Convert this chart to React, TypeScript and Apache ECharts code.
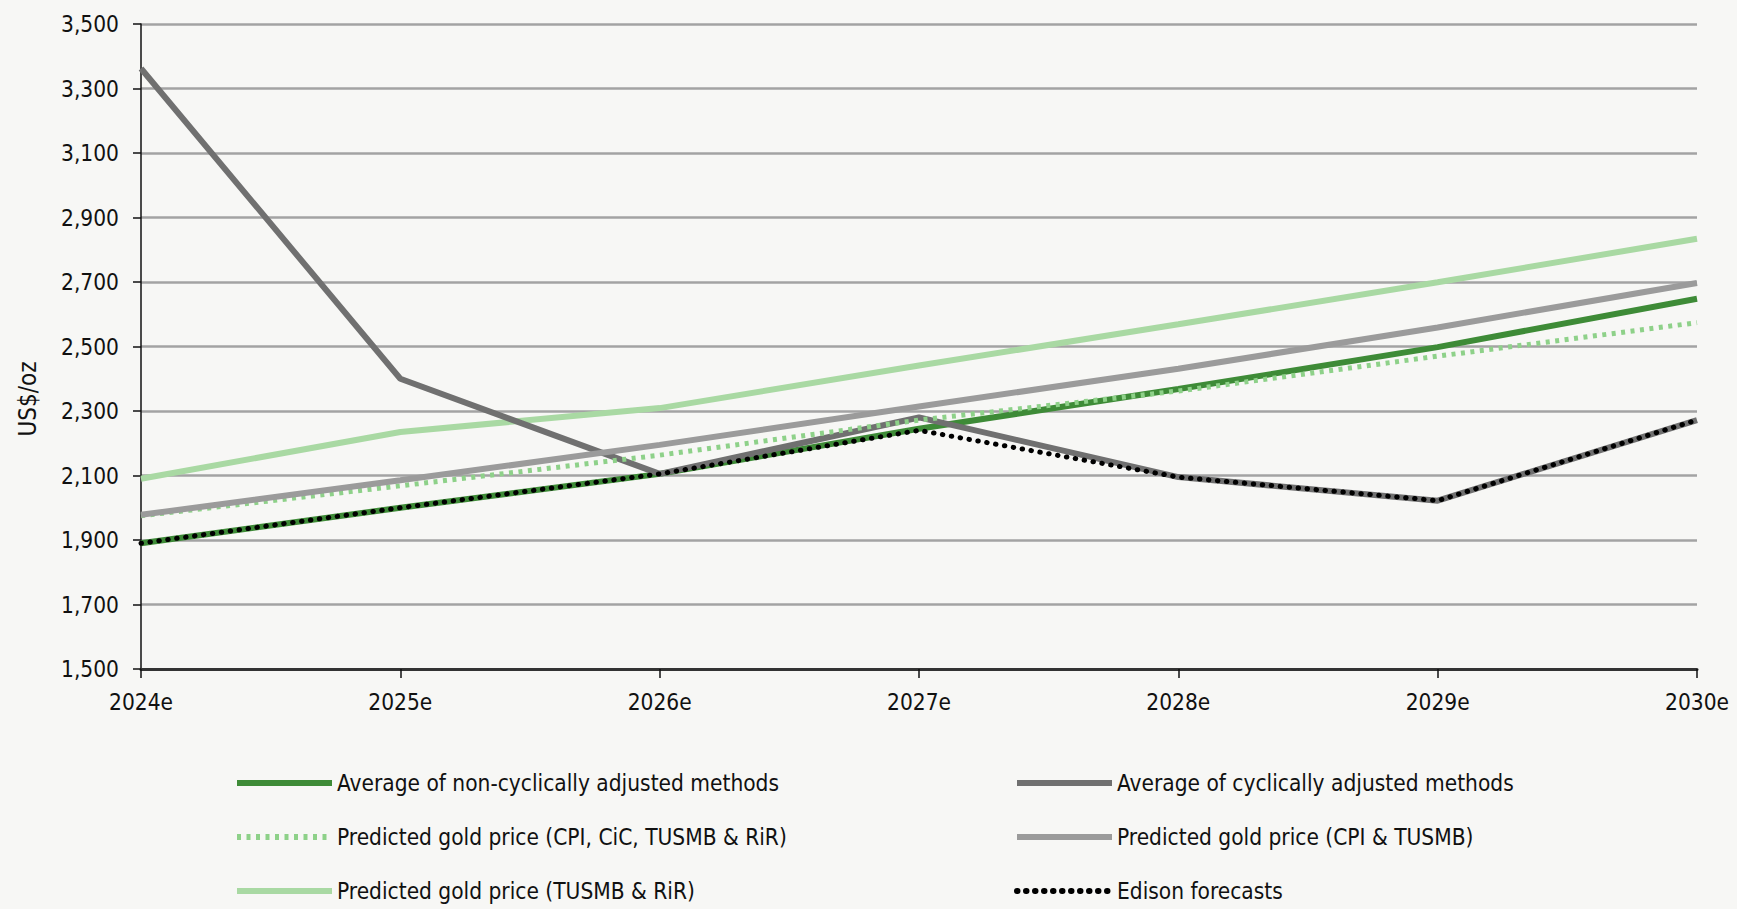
import React, { useEffect, useRef } from "react";
import * as echarts from "echarts";

const categories = ["2024e", "2025e", "2026e", "2027e", "2028e", "2029e", "2030e"];
const nonCyclical = [1890, 2000, 2105, 2245, 2368, 2498, 2648];
const cyclical = [3362, 2400, 2105, 2280, 2095, 2022, 2272];
const cpiCicTusmbRir = [1975, 2068, 2163, 2272, 2362, 2470, 2574];
const cpiTusmb = [1978, 2085, 2195, 2314, 2431, 2559, 2697];
const tusmbRir = [2090, 2235, 2309, 2441, 2569, 2699, 2834];
const edison = [1890, 2000, 2105, 2240, 2095, 2022, 2272];
const yTicks = { min: 1500, max: 3500, interval: 200 };

const FONT = "'DejaVu Sans Condensed', 'Liberation Sans Narrow', 'Arial Narrow', sans-serif";
const FS = 22.5;

export default function App() {
  const ref = useRef<HTMLDivElement>(null);
  useEffect(() => {
    document.body.style.margin = "0";
    document.body.style.overflow = "hidden";
    const chart = echarts.init(ref.current!, null, { renderer: "svg" });
    const names = {
      nc: "Average of non-cyclically adjusted methods",
      cy: "Average of cyclically adjusted methods",
      p1: "Predicted gold price (CPI, CiC, TUSMB & RiR)",
      p2: "Predicted gold price (CPI & TUSMB)",
      p3: "Predicted gold price (TUSMB & RiR)",
      ed: "Edison forecasts",
    };
    const legendCommon = {
      orient: "vertical" as const,
      top: 768,
      padding: 0,
      itemWidth: 95,
      itemHeight: 14,
      itemGap: 24,
      itemStyle: { opacity: 0 },
      lineStyle: { width: 6 },
      textStyle: { fontFamily: FONT, fontSize: FS, color: "#111", lineHeight: 30, padding: [0, 0, 0, 0] },
      selectedMode: false,
    };
    chart.setOption({
      animation: false,
      backgroundColor: "#f7f7f5",
      textStyle: { fontFamily: FONT },
      grid: { left: 141, right: 40, top: 24, bottom: 240, containLabel: false },
      graphic: [
        {
          type: "text",
          x: 28,
          y: 399,
          rotation: Math.PI / 2,
          style: {
            text: "US$/oz",
            font: `24px ${FONT}`,
            fill: "#111",
            align: "center",
            verticalAlign: "middle",
          },
        },
      ],
      legend: [
        { ...legendCommon, left: 234, data: [names.nc, names.p1, names.p3] },
        { ...legendCommon, left: 1014, data: [names.cy, names.p2, names.ed] },
      ],
      xAxis: {
        type: "category",
        data: categories,
        boundaryGap: false,
        axisLine: { lineStyle: { color: "#333", width: 3 } },
        axisTick: { show: true, length: 9, lineStyle: { color: "#111", width: 1.5 } },
        axisLabel: { fontFamily: FONT, fontSize: FS, color: "#111", margin: 21 },
        splitLine: { show: false },
      },
      yAxis: {
        type: "value",
        min: yTicks.min,
        max: yTicks.max,
        interval: yTicks.interval,
        axisLine: { show: true, lineStyle: { color: "#111", width: 1.5 } },
        axisTick: { show: true, length: 8, lineStyle: { color: "#111", width: 1.5 } },
        axisLabel: {
          fontFamily: FONT,
          fontSize: FS,
          color: "#111",
          margin: 22,
          formatter: (v: number) => v.toLocaleString("en-US"),
        },
        splitLine: { show: true, lineStyle: { color: "#a3a3a3", width: 2.5 } },
      },
      series: [
        {
          name: names.p3, type: "line", data: tusmbRir, symbol: "none",
          lineStyle: { color: "#a9d9a3", width: 6 }, itemStyle: { color: "#a9d9a3" }, z: 2,
        },
        {
          name: names.nc, type: "line", data: nonCyclical, symbol: "none",
          lineStyle: { color: "#3e8b37", width: 6 }, itemStyle: { color: "#3e8b37" }, z: 3,
        },
        {
          name: names.cy, type: "line", data: cyclical, symbol: "none",
          lineStyle: { color: "#707070", width: 6 }, itemStyle: { color: "#707070" }, z: 4,
        },
        {
          name: names.p1, type: "line", data: cpiCicTusmbRir, symbol: "none",
          lineStyle: { color: "#8ed189", width: 5, type: [4, 5.5] }, itemStyle: { color: "#8ed189" }, z: 5,
        },
        {
          name: names.p2, type: "line", data: cpiTusmb, symbol: "none",
          lineStyle: { color: "#9b9b9b", width: 6 }, itemStyle: { color: "#9b9b9b" }, z: 6,
        },
        {
          name: names.ed, type: "line", data: edison, symbol: "none",
          lineStyle: { color: "#000000", width: 5, type: [0.5, 8.5], cap: "round" }, itemStyle: { color: "#000" }, z: 7,
        },
      ],
    });
    return () => chart.dispose();
  }, []);
  return <div ref={ref} style={{ width: 1737, height: 909 }} />;
}
